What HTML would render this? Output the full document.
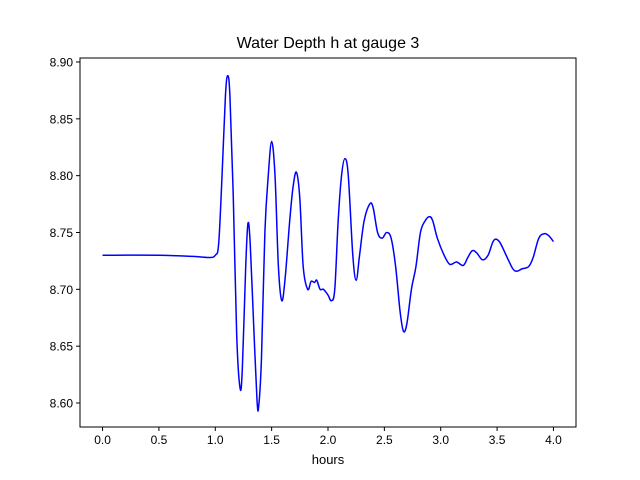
<!DOCTYPE html>
<html><head><meta charset="utf-8">
<style>
body{margin:0;background:#fff;}
svg{display:block;font-family:"Liberation Sans","DejaVu Sans",sans-serif;}
</style></head>
<body>
<svg id="chart" width="640" height="480">
<rect width="640" height="480" fill="#fff"/>
<text x="328" y="48" text-anchor="middle" font-size="16">Water Depth h at gauge 3</text>
<g id="xt"></g>
<g id="yt"></g>
<path id="line" fill="none" stroke="#0000ff" stroke-width="1.5" stroke-linejoin="round"/>
<rect x="80" y="58" width="496" height="369" fill="none" stroke="#000" stroke-width="1"/>
<text x="328" y="464" text-anchor="middle" font-size="13">hours</text>
</svg>
<script>
const hours=[0,0.5,0.8,0.95,1.0,1.03,1.06,1.09,1.11,1.13,1.16,1.19,1.22,1.24,1.27,1.29,1.31,1.34,1.37,1.385,1.41,1.44,1.47,1.50,1.53,1.56,1.59,1.62,1.66,1.69,1.72,1.75,1.78,1.82,1.85,1.88,1.90,1.93,1.96,2.00,2.03,2.06,2.09,2.12,2.15,2.18,2.22,2.25,2.28,2.32,2.37,2.40,2.44,2.48,2.52,2.56,2.60,2.64,2.67,2.70,2.74,2.78,2.82,2.86,2.90,2.93,2.97,3.03,3.08,3.14,3.20,3.24,3.28,3.32,3.37,3.42,3.47,3.52,3.58,3.64,3.68,3.72,3.78,3.82,3.87,3.92,3.96,4.00];
const depth=[8.730,8.730,8.729,8.728,8.730,8.74,8.80,8.87,8.888,8.87,8.78,8.66,8.613,8.63,8.72,8.758,8.74,8.67,8.603,8.597,8.64,8.75,8.80,8.830,8.80,8.72,8.69,8.71,8.76,8.79,8.803,8.78,8.72,8.70,8.707,8.706,8.708,8.70,8.700,8.695,8.690,8.70,8.76,8.80,8.815,8.80,8.73,8.708,8.73,8.76,8.775,8.772,8.750,8.745,8.750,8.745,8.72,8.68,8.663,8.67,8.70,8.72,8.75,8.76,8.764,8.76,8.745,8.73,8.722,8.724,8.721,8.728,8.734,8.732,8.726,8.73,8.743,8.742,8.730,8.718,8.716,8.718,8.720,8.728,8.745,8.749,8.747,8.742];
const xTicks=[0,0.5,1.0,1.5,2.0,2.5,3.0,3.5,4.0];
const xLabels=["0.0","0.5","1.0","1.5","2.0","2.5","3.0","3.5","4.0"];
const yTicks=[8.60,8.65,8.70,8.75,8.80,8.85,8.90];
const yLabels=["8.60","8.65","8.70","8.75","8.80","8.85","8.90"];
const L=80,R=576,T=58,B=427,x0=-0.2,x1=4.2,y0=8.5789,y1=8.9035;
const sx=v=>L+(v-x0)/(x1-x0)*(R-L);
const sy=v=>B-(v-y0)/(y1-y0)*(B-T);
const NS="http://www.w3.org/2000/svg";
function mk(t,a,p){const e=document.createElementNS(NS,t);for(const k in a)e.setAttribute(k,a[k]);p.appendChild(e);return e;}
const xt=document.getElementById('xt'),yt=document.getElementById('yt');
xTicks.forEach((v,i)=>{
 const l=mk('line',{x1:sx(v),x2:sx(v),y1:B,y2:B+4,stroke:'#000'},xt);
 
 
 const t=mk('text',{x:sx(v),y:B+17,'text-anchor':'middle','font-size':'12'},xt);
 t.textContent=xLabels[i];
 
 
});
yTicks.forEach((v,i)=>{
 const l=mk('line',{x1:L-4,x2:L,y1:sy(v),y2:sy(v),stroke:'#000'},yt);
 
 
 const t=mk('text',{x:L-7,y:sy(v)+4.5,'text-anchor':'end','font-size':'12'},yt);
 t.textContent=yLabels[i];
 
 
});
const pts=hours.map((h,i)=>[sx(h),sy(depth[i])]);
let d='M'+pts[0][0]+','+pts[0][1];
for(let i=0;i<pts.length-1;i++){
 const p0=pts[Math.max(0,i-1)],p1=pts[i],p2=pts[i+1],p3=pts[Math.min(pts.length-1,i+2)];
 const c1=[p1[0]+(p2[0]-p0[0])/6,p1[1]+(p2[1]-p0[1])/6];
 const c2=[p2[0]-(p3[0]-p1[0])/6,p2[1]-(p3[1]-p1[1])/6];
 d+=' C'+c1+' '+c2+' '+p2;
}
document.getElementById('line').setAttribute('d',d);
</script>
</body></html>
